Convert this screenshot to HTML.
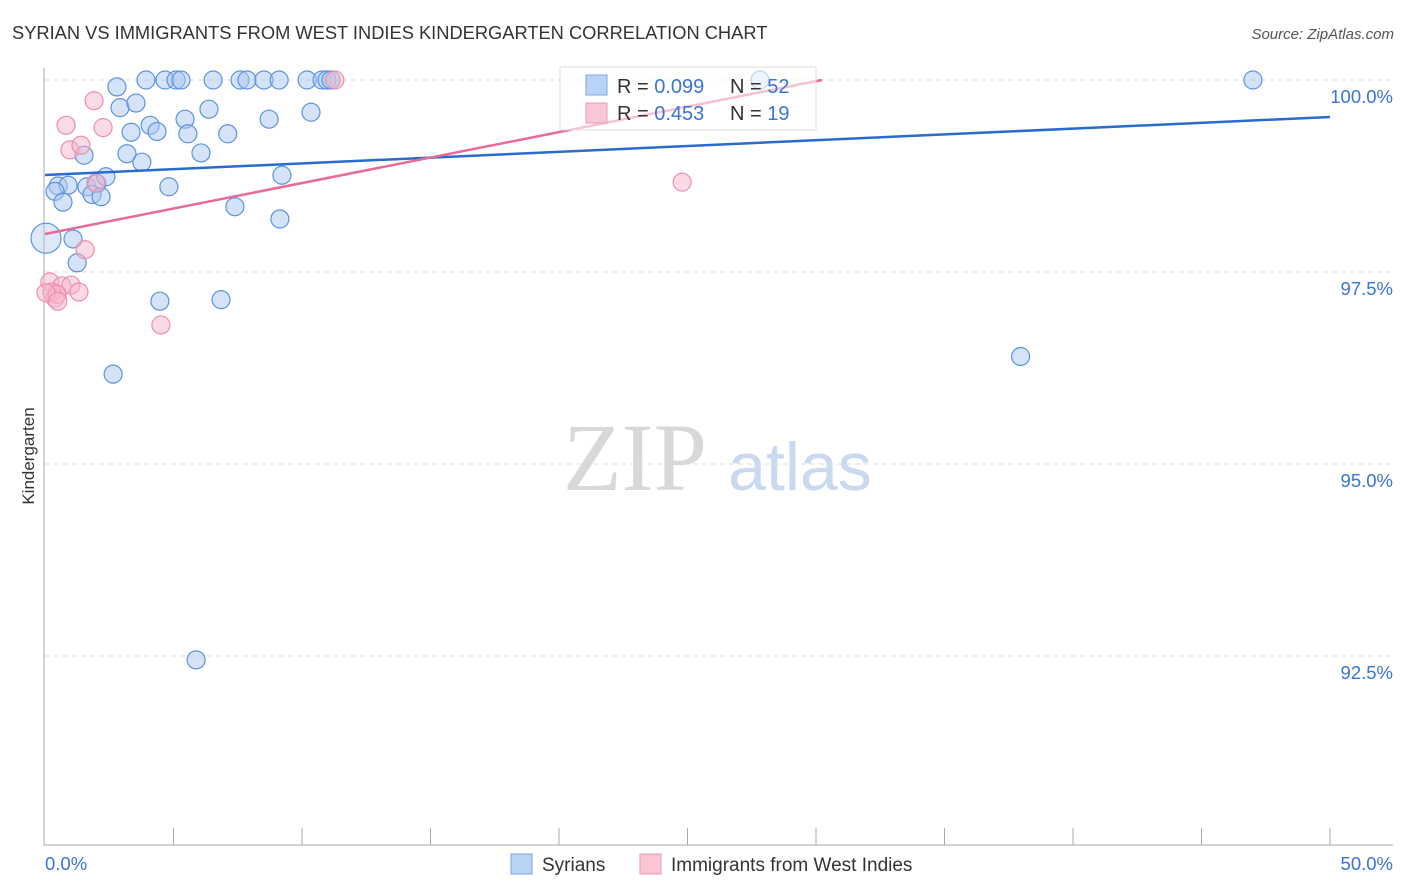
<!DOCTYPE html>
<html><head><meta charset="utf-8"><style>
body{margin:0;background:#fff;font-family:"Liberation Sans",sans-serif;}
svg{display:block}
</style></head><body>
<svg id="chart" width="1406" height="892" xmlns="http://www.w3.org/2000/svg">
<text x="12" y="39" font-size="18.3" fill="#333">SYRIAN VS IMMIGRANTS FROM WEST INDIES KINDERGARTEN CORRELATION CHART</text>
<text x="1394" y="39" font-size="15" fill="#555" font-style="italic" text-anchor="end">Source: ZipAtlas.com</text>
<g id="grid"></g>
<text x="635" y="490" font-size="96" fill="#d8d8d8" font-family="Liberation Serif,serif" text-anchor="middle">ZIP</text>
<text x="800" y="490" font-size="68" fill="#c9d9f0" text-anchor="middle">atlas</text>
<g id="axes"></g>
<g id="points"></g>
<g id="trends"></g>
<text transform="translate(34,456) rotate(-90)" font-size="17" fill="#333" text-anchor="middle">Kindergarten</text>
<g>
<rect x="560" y="67" width="256" height="63" fill="#fff" fill-opacity="0.6" stroke="#ddd"/>
<rect x="586" y="75" width="21" height="20" fill="#b8d3f5" stroke="#7aa7e4"/>
<rect x="586" y="103" width="21" height="20" fill="#f8c6d4" stroke="#ee9ab2"/>
<text x="617" y="93" font-size="20" fill="#333">R = <tspan fill="#3a74d4">0.099</tspan></text>
<text x="730" y="93" font-size="20" fill="#333">N = <tspan fill="#3a74d4">52</tspan></text>
<text x="617" y="120" font-size="20" fill="#333">R = <tspan fill="#3a74d4">0.453</tspan></text>
<text x="730" y="120" font-size="20" fill="#333">N = <tspan fill="#3a74d4">19</tspan></text>
</g>
<g>
<rect x="511" y="854" width="21" height="20" fill="#b8d3f5" stroke="#7aa7e4"/>
<text x="542" y="871" font-size="19" fill="#333">Syrians</text>
<rect x="640" y="854" width="21" height="20" fill="#f8c6d4" stroke="#ee9ab2"/>
<text x="671" y="871" font-size="19" fill="#333">Immigrants from West Indies</text>
</g>
</svg>
<script>
const yTicks=[100,97.5,95,92.5];
const yTickLabels=["100.0%","97.5%","95.0%","92.5%"];
const xTickLabels=["0.0%","50.0%"];
const syriansX=[3.93,4.67,5.1,5.29,6.54,7.59,7.86,8.52,9.11,10.2,10.78,10.97,11.13,27.82,47.0,2.8,2.92,3.54,5.45,6.38,8.72,10.35,3.35,4.09,4.36,5.56,7.11,1.52,3.19,3.77,6.07,0.51,0.9,0.39,0.70,1.63,2.02,1.83,2.18,2.37,4.82,9.22,7.39,9.14,0.04,1.09,1.25,4.47,6.85,2.65,5.88,37.96];
const syriansY=[100,100,100,100,100,100,100,100,100,100,100,100,100,100,100,99.91,99.64,99.70,99.49,99.62,99.49,99.58,99.32,99.41,99.33,99.30,99.30,99.02,99.04,98.93,99.05,98.62,98.63,98.55,98.41,98.61,98.65,98.51,98.48,98.74,98.61,98.76,98.35,98.19,97.94,97.93,97.62,97.12,97.14,96.17,92.45,96.40];
const westIndiesX=[1.91,0.82,2.26,0.97,1.4,1.98,1.56,0.19,0.66,1.01,1.32,0.39,0.27,0.47,4.51,11.28,24.79,0.04,0.5];
const westIndiesY=[99.73,99.41,99.38,99.09,99.15,98.66,97.79,97.37,97.32,97.33,97.24,97.16,97.24,97.21,96.81,100,98.67,97.23,97.12];
const syrTrend=[98.763,99.518];
const wiTrend=[97.995,100.0];
const NS="http://www.w3.org/2000/svg";
const X=v=>45+v/50*1285;
const Y=v=>80+(100-v)/2.5*192;
function mk(t,a,p){const e=document.createElementNS(NS,t);for(const k in a)e.setAttribute(k,a[k]);p.appendChild(e);return e;}
const grid=document.getElementById('grid'),axes=document.getElementById('axes'),pts=document.getElementById('points'),tr=document.getElementById('trends');
yTicks.forEach((v,i)=>{
 const l=mk('line',{x1:45,x2:1393,y1:Y(v),y2:Y(v),stroke:'#ddd','stroke-dasharray':'5,4'},grid);
 
 
 const t=mk('text',{x:1393,y:Y(v)+23,'font-size':18.5,fill:'#3a74d4','text-anchor':'end'},axes);
 t.textContent=yTickLabels[i];
 
 
});
const ya=mk('line',{x1:44,x2:44,y1:68,y2:845,stroke:'#aaa'},axes);


const xa=mk('line',{x1:44,x2:1393,y1:845,y2:845,stroke:'#aaa'},axes);


for(let v=5;v<=50;v+=5){
 const k=mk('line',{x1:X(v),x2:X(v),y1:828,y2:845,stroke:'#aaa'},axes);
 
 
}
[[0,'start',45],[50,'end',1393]].forEach((d,i)=>{
 const t=mk('text',{x:d[2],y:870,'font-size':18.5,fill:'#3a74d4','text-anchor':d[1]},axes);
 t.textContent=xTickLabels[i];
 
 
});
syriansX.forEach((x,i)=>{
 const big=(x<0.1&&syriansY[i]<98);
 const c=mk('circle',{cx:X(x),cy:Y(syriansY[i]),r:big?15:9,fill:'#a9c8f0','fill-opacity':big?0.4:0.5,stroke:'#5b93de','stroke-width':1.2},pts);
 
 
});
westIndiesX.forEach((x,i)=>{
 const c=mk('circle',{cx:X(x),cy:Y(westIndiesY[i]),r:9,fill:'#f6b6c9','fill-opacity':0.5,stroke:'#ec8fac','stroke-width':1.2},pts);
 
 
});
const l1=mk('line',{x1:X(0),y1:Y(syrTrend[0]),x2:X(50),y2:Y(syrTrend[1]),stroke:'#2a6bd0','stroke-width':2.5},tr);


const xe=30.23;
const l2=mk('line',{x1:X(0),y1:Y(wiTrend[0]),x2:X(xe),y2:Y(wiTrend[1]),stroke:'#e86a95','stroke-width':2.5},tr);


</script>
</body></html>
